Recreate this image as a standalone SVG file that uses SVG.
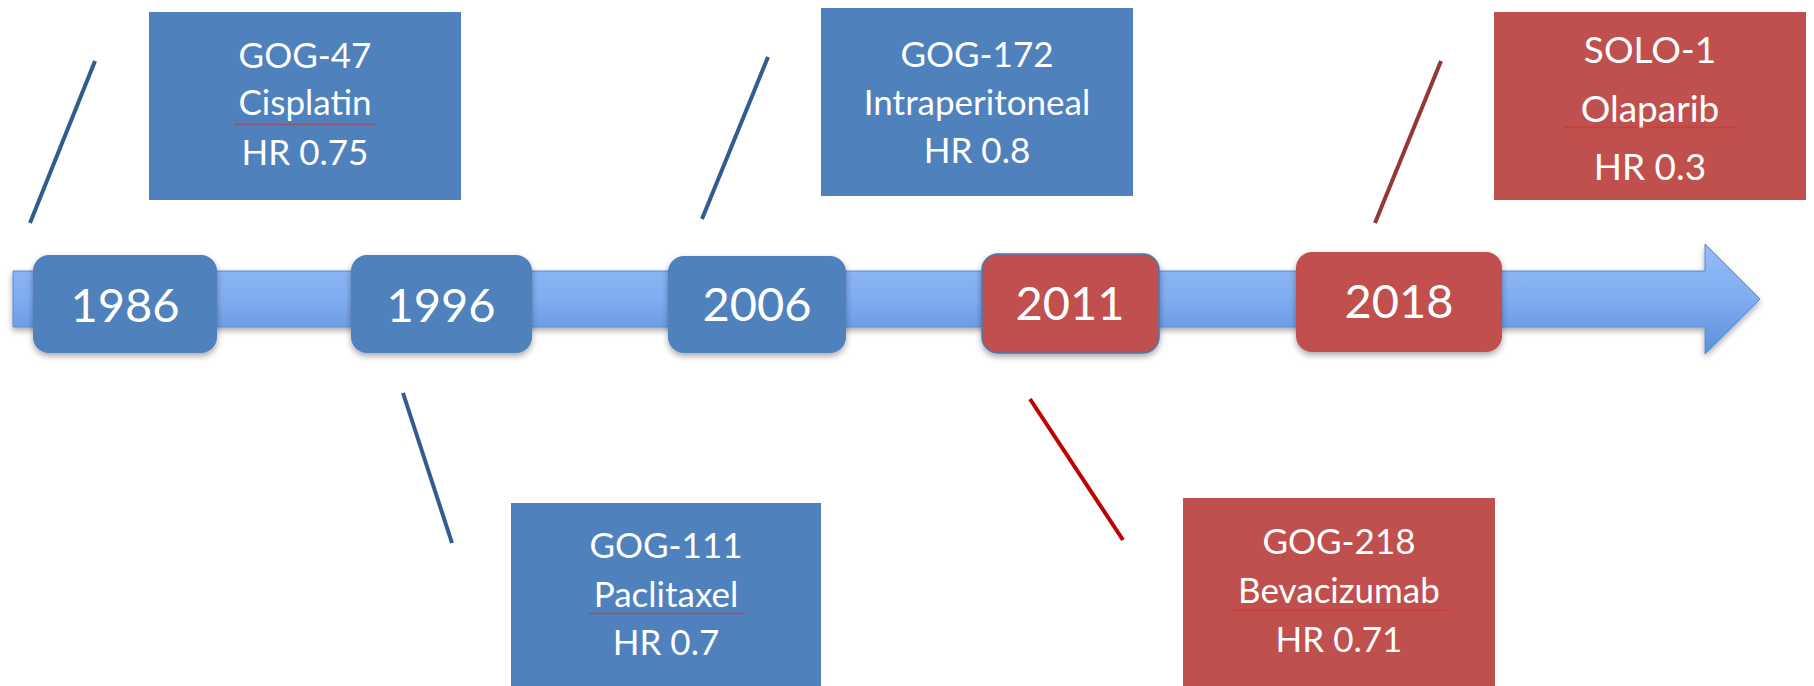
<svg xmlns="http://www.w3.org/2000/svg" width="1814" height="686" viewBox="0 0 1814 686">
  <style>
    .blue { fill: #4F81BD; }
    .red { fill: #C0504D; }
    .yr { font-family: Lato, "Open Sans", sans-serif; font-size: 47px; fill: #ffffff; text-anchor: middle; }
    .lbl { font-family: Lato, "Open Sans", sans-serif; font-size: 35px; fill: #ffffff; text-anchor: middle; }
    .lbl2 { font-family: Lato, "Open Sans", sans-serif; font-size: 37px; fill: #ffffff; text-anchor: middle; }
    .conn { stroke-width: 4; stroke-linecap: butt; fill: none; }
  </style>
  <defs>
    <linearGradient id="barGrad" x1="0" y1="0" x2="0" y2="1">
      <stop offset="0" stop-color="#93BCF8"/>
      <stop offset="0.5" stop-color="#80ACF0"/>
      <stop offset="1" stop-color="#5B8FDA"/>
    </linearGradient>
    <filter id="shadow" x="-10%" y="-20%" width="120%" height="150%">
      <feDropShadow dx="0" dy="3" stdDeviation="3" flood-color="#000000" flood-opacity="0.35"/>
    </filter>
    <pattern id="wave" patternUnits="userSpaceOnUse" width="4" height="3">
      <path d="M0 2.5 L2 0.5 L4 2.5" stroke="#E02020" stroke-width="0.9" fill="none"/>
    </pattern>
  </defs>

  <g id="timeline-arrow">
    <path d="M13 271 L1705 271 L1705 244 L1760 299 L1705 354 L1705 327 L13 327 Z" fill="url(#barGrad)" stroke="#5A8AD0" stroke-width="1" filter="url(#shadow)"/>
  </g>

  <g id="connectors">
    <line class="conn" x1="95" y1="61" x2="30" y2="223" stroke="#2F5D8F"/>
    <line class="conn" x1="403" y1="393" x2="452" y2="543" stroke="#2F5D8F"/>
    <line class="conn" x1="768" y1="57" x2="702" y2="219" stroke="#2F5D8F"/>
    <line class="conn" x1="1030" y1="399" x2="1123" y2="540" stroke="#C00000"/>
    <line class="conn" x1="1441" y1="61" x2="1375" y2="223" stroke="#953735"/>
  </g>

  <g id="year-1986">
    <rect class="blue" x="33" y="255" width="184" height="98" rx="16" filter="url(#shadow)"/>
    <text class="yr" x="125" y="322">1986</text>
  </g>
  <g id="year-1996">
    <rect class="blue" x="351" y="255" width="181" height="98" rx="16" filter="url(#shadow)"/>
    <text class="yr" x="441" y="322">1996</text>
  </g>
  <g id="year-2006">
    <rect class="blue" x="668" y="256" width="178" height="97" rx="16" filter="url(#shadow)"/>
    <text class="yr" x="757" y="321">2006</text>
  </g>
  <g id="year-2011">
    <rect class="red" x="982" y="254" width="177" height="99" rx="16" stroke="#4A78B2" stroke-width="1.5" filter="url(#shadow)"/>
    <text class="yr" x="1070" y="320">2011</text>
  </g>
  <g id="year-2018">
    <rect class="red" x="1296" y="252" width="206" height="100" rx="16" filter="url(#shadow)"/>
    <text class="yr" x="1399" y="318">2018</text>
  </g>

  <g id="gog-47">
    <rect class="blue" x="149" y="12" width="312" height="188"/>
    <text class="lbl" x="305" y="68">GOG-47</text>
    <text class="lbl" x="305" y="115">Cisplatin</text>
    <text class="lbl" x="305" y="165">HR 0.75</text>
    <rect x="234" y="123" width="142" height="3" fill="url(#wave)"/>
  </g>
  <g id="gog-111">
    <rect class="blue" x="511" y="503" width="310" height="190"/>
    <text class="lbl" x="666" y="558">GOG-111</text>
    <text class="lbl" x="666" y="607">Paclitaxel</text>
    <text class="lbl" x="666" y="655">HR 0.7</text>
    <rect x="589" y="612" width="156" height="3" fill="url(#wave)"/>
  </g>
  <g id="gog-172">
    <rect class="blue" x="821" y="8" width="312" height="188"/>
    <text class="lbl" x="977" y="67">GOG-172</text>
    <text class="lbl" x="977" y="115">Intraperitoneal</text>
    <text class="lbl" x="977" y="163">HR 0.8</text>
  </g>
  <g id="gog-218">
    <rect class="red" x="1183" y="498" width="312" height="195"/>
    <text class="lbl" x="1339" y="554">GOG-218</text>
    <text class="lbl" x="1339" y="603">Bevacizumab</text>
    <text class="lbl" x="1339" y="652">HR 0.71</text>
    <rect x="1230" y="609" width="217" height="3" fill="url(#wave)"/>
  </g>
  <g id="solo-1">
    <rect class="red" x="1494" y="12" width="312" height="188"/>
    <text class="lbl2" x="1650" y="63">SOLO-1</text>
    <text class="lbl2" x="1650" y="122">Olaparib</text>
    <text class="lbl2" x="1650" y="180">HR 0.3</text>
    <rect x="1563" y="126" width="174" height="3" fill="url(#wave)"/>
  </g>
</svg>
